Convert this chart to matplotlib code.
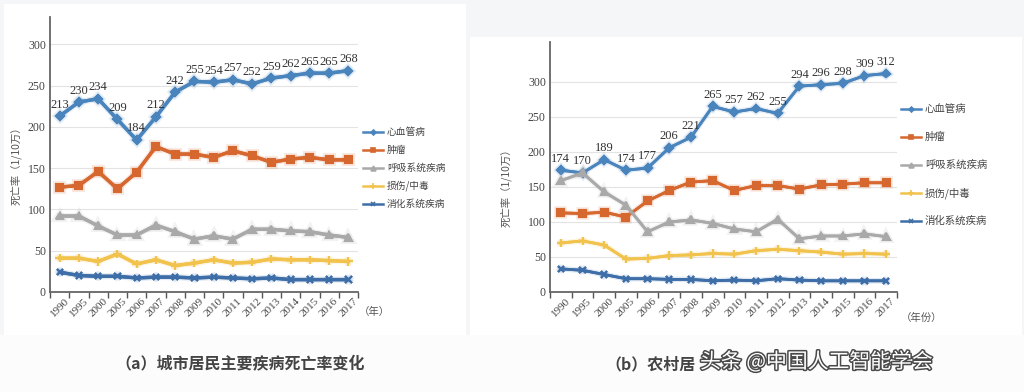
import matplotlib
matplotlib.use("Agg")
import matplotlib.pyplot as plt
import matplotlib.patheffects as pe
from matplotlib.patches import Rectangle

# 数据
years = ["1990", "1995", "2000", "2005", "2006", "2007", "2008", "2009",
         "2010", "2011", "2012", "2013", "2014", "2015", "2016", "2017"]
series_names = ["心血管病", "肿瘤", "呼吸系统疾病", "损伤/中毒", "消化系统疾病"]

# 城市
urban_cardio = [213, 230, 234, 209, 184, 212, 242, 255, 254, 257, 252, 259, 262, 265, 265, 268]
urban_tumor = [127, 129, 146, 125, 145, 176, 167, 167, 163, 171, 165, 157, 161, 163, 160, 160]
urban_resp = [92, 92, 80, 69, 69, 81, 73, 64, 68, 64, 76, 76, 74, 73, 69, 66]
urban_injury = [41, 41, 37, 46, 34, 39, 32, 35, 39, 35, 36, 40, 39, 39, 38, 37]
urban_digest = [24, 20, 19, 19, 17, 18, 18, 17, 18, 17, 16, 17, 15, 15, 15, 15]

# 农村
rural_cardio = [174, 170, 189, 174, 177, 206, 221, 265, 257, 262, 255, 294, 296, 298, 309, 312]
rural_tumor = [113, 112, 114, 107, 130, 145, 157, 159, 145, 152, 152, 147, 153, 154, 156, 156]
rural_resp = [159, 170, 143, 124, 86, 100, 103, 98, 90, 86, 104, 76, 80, 80, 83, 79]
rural_injury = [70, 73, 67, 47, 48, 52, 53, 55, 54, 59, 61, 59, 57, 54, 55, 54]
rural_digest = [33, 31, 25, 19, 19, 18, 18, 16, 17, 16, 19, 17, 16, 16, 16, 16]

colors = ["#4a84bd", "#d5672f", "#a9a9a9", "#f1c24c", "#3d6ea8"]
markers = ["D", "s", "^", "+", "x"]
msizes = [4, 5, 5, 6, 4.5]

serif = ["Liberation Serif", "Noto Sans CJK SC"]
cjk = ["Noto Sans CJK SC", "DejaVu Sans"]

fig = plt.figure(figsize=(10.24, 3.92), dpi=100)
fig.patch.set_facecolor("#f5f6f7")
W, H = 1024, 392


def px_rect(x0, y0, x1, y1, color):
    fig.patches.append(Rectangle((x0 / W, 1 - y1 / H), (x1 - x0) / W, (y1 - y0) / H,
                                 transform=fig.transFigure, facecolor=color,
                                 edgecolor="none", zorder=-5))


px_rect(4, 4, 466, 335, "white")
px_rect(470, 37, 1022, 335, "white")
px_rect(0, 335, 1024, 392, "#fcfcfc")


def draw_panel(rect, data, ymax, lw, label_fs, leg_x, leg_y0, leg_dy, leg_fs, unit, unit_xy, ylab_xy):
    ax = fig.add_axes(rect)
    ax.set_facecolor("none")
    x = list(range(len(years)))
    for i, vals in enumerate(data):
        ax.plot(x, vals, color=colors[i], lw=lw, marker=markers[i], ms=msizes[i],
                mew=1.5, mfc=colors[i], mec=colors[i], zorder=3,
                path_effects=[pe.withStroke(linewidth=lw + 2, foreground=colors[i], alpha=0.15),
                              pe.Normal()])
    for xi, v in zip(x, data[0]):
        ax.annotate(str(v), (xi, v), xytext=(0, 4), textcoords="offset points",
                    ha="center", va="bottom", fontsize=label_fs, color="#333333",
                    family=serif, zorder=4)
    ax.set_xlim(-0.5, len(years) - 0.5)
    ax.set_ylim(0, ymax)
    ax.set_yticks(range(0, 301, 50))
    ax.set_yticklabels([str(v) for v in range(0, 301, 50)], family=serif, fontsize=8.5, color="#444")
    ax.tick_params(axis="y", length=0, pad=3)
    ax.set_xticks([i - 0.5 for i in range(len(years) + 1)])
    ax.set_xticklabels([])
    ax.tick_params(axis="x", which="major", length=4, width=1, color="#555", direction="out")
    ax.set_xticks(x, minor=True)
    ax.set_xticklabels(years, minor=True, rotation=45, ha="center", va="top",
                       family=serif, fontsize=8, color="#444")
    ax.tick_params(axis="x", which="minor", length=0, pad=3)
    for v in range(50, 301, 50):
        ax.axhline(v, color="#e3e3e3", lw=0.8, zorder=1)
    for s in ["top", "right"]:
        ax.spines[s].set_visible(False)
    for s in ["left", "bottom"]:
        ax.spines[s].set_color("#666666")
        ax.spines[s].set_linewidth(1.3)

    # 图例
    for i, name in enumerate(series_names):
        yy = 1 - (leg_y0 + i * leg_dy) / H
        x0, x1 = leg_x / W, (leg_x + 20) / W
        fig.add_artist(plt.Line2D([x0, x1], [yy, yy], transform=fig.transFigure,
                                  color=colors[i], lw=1.8))
        fig.add_artist(plt.Line2D([(x0 + x1) / 2], [yy], transform=fig.transFigure,
                                  color=colors[i], marker=markers[i], ms=msizes[i] - 1.5, mew=1.2))
        fig.text((leg_x + 24) / W, yy, name, family=cjk, fontsize=leg_fs,
                 color="#444", va="center", ha="left")
    fig.text(unit_xy[0] / W, 1 - unit_xy[1] / H, unit, family=cjk, fontsize=7.5,
             color="#555", ha="center", va="center")
    fig.text(ylab_xy[0] / W, 1 - ylab_xy[1] / H, "死亡率（1/10万）",
             family=cjk, fontsize=7.5, color="#555", rotation=90, ha="center", va="center")
    return ax


urban = [urban_cardio, urban_tumor, urban_resp, urban_injury, urban_digest]
rural = [rural_cardio, rural_tumor, rural_resp, rural_injury, rural_digest]

draw_panel([50 / W, 1 - 292 / H, 308 / W, 275 / H], urban, 333, 2.4, 9,
           363, 132, 18, 7, "（年）", (374, 312), (16, 163))
draw_panel([550 / W, 1 - 292 / H, 347 / W, 250 / H], rural, 357, 2.0, 9,
           901, 109, 28, 7.5, "（年份）", (922, 318), (506, 185))

fig.text(240 / W, 1 - 364 / H, "（a）城市居民主要疾病死亡率变化", family=cjk,
         fontsize=11.5, fontweight="bold", color="#444444", ha="center", va="center")
fig.text(605 / W, 1 - 364 / H, "（b）农村居", family=cjk,
         fontsize=11.5, fontweight="bold", color="#444444", ha="left", va="center")
fig.text(700 / W, 1 - 362 / H, "头条 @中国人工智能学会", family=cjk,
         fontsize=15, color="white", ha="left", va="center",
         path_effects=[pe.withStroke(linewidth=2.2, foreground="#4a4a4a")])

fig.savefig("out.png", dpi=100, facecolor=fig.get_facecolor())
